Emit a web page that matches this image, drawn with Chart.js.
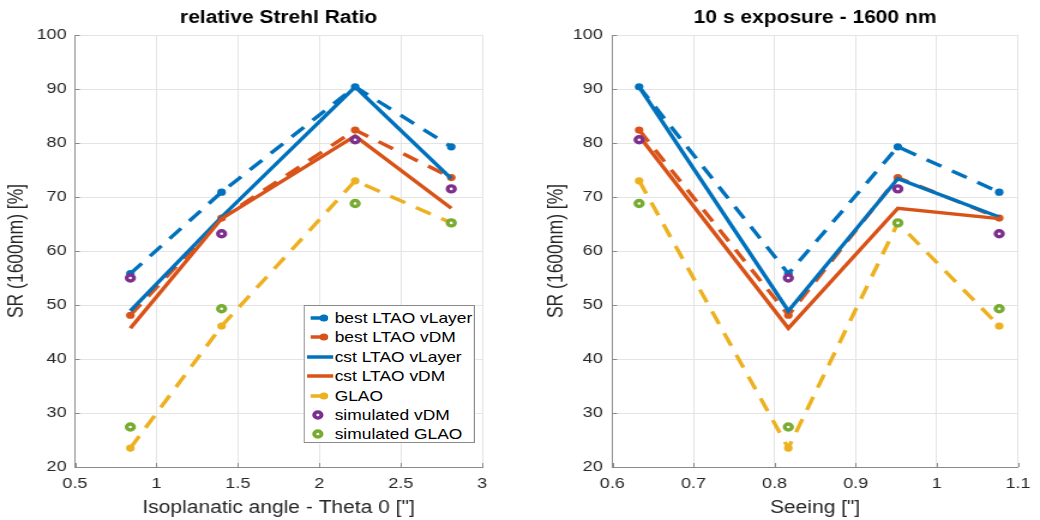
<!DOCTYPE html>
<html>
<head>
<meta charset="utf-8">
<script src="https://cdn.jsdelivr.net/npm/chart.js@4.4.1/dist/chart.umd.min.js"></script>
<style>
  html, body { margin: 0; padding: 0; background: #fff; }
  body { width: 1040px; height: 520px; overflow: hidden; position: relative; }
  #wrap { position: absolute; left: 0; top: 0; width: 867px; height: 520px; transform: scaleX(1.1995); transform-origin: 0 0; }
  #c1 { position: absolute; left: 0; top: 0; }
  #c2 { position: absolute; left: 433px; top: 0; }
  #legend { position: absolute; left: 253px; top: 305px; width: 143px; height: 138px; border: 1px solid #8a8a8a; background: #fff; box-sizing: border-box;
            font-family: "Liberation Sans", Arial, sans-serif; font-size: 14.5px; color: #000; }
  .row { position: absolute; left: 0; height: 18px; line-height: 18px; white-space: nowrap; }
  .row svg { position: absolute; left: 2px; top: 3px; }
  .row span { position: absolute; left: 25px; top: 0; }
</style>
</head>
<body>
<div id="wrap">
  <canvas id="c1" width="433" height="520"></canvas>
  <canvas id="c2" width="434" height="520"></canvas>
  <div id="legend"></div>
</div>
<script>
// ---- data ----
const theta   = [0.84, 1.40, 2.22, 2.81];     // isoplanatic angle ["]
const seeing  = [0.817, 1.077, 0.633, 0.952]; // seeing ["] of the same cases
const bestVLayer = [55.8, 70.9, 90.4, 79.3];
const bestVDM    = [48.1, 66.1, 82.4, 73.6];
const cstVLayer  = [48.9, 66.3, 90.4, 73.4];
const cstVDM     = [45.7, 66.0, 81.3, 67.9];
const glao       = [23.5, 46.1, 73.0, 65.2];
const simVDM     = [55.0, 63.2, 80.6, 71.5];
const simGLAO    = [27.4, 49.3, 68.8, 65.2];
const seriesNames = ['best LTAO vLayer', 'best LTAO vDM', 'cst LTAO vLayer', 'cst LTAO vDM', 'GLAO', 'simulated vDM', 'simulated GLAO'];
const xTicksLeft  = [0.5, 1, 1.5, 2, 2.5, 3];
const xTicksRight = [0.6, 0.7, 0.8, 0.9, 1, 1.1];
const yTicks = [20, 30, 40, 50, 60, 70, 80, 90, 100];
const titles = ['relative Strehl Ratio', '10 s exposure - 1600 nm'];
const xTitles = ['Isoplanatic angle - Theta 0 ["]', 'Seeing ["]'];
const yTitle = 'SR (1600nm) [%]';

// ---- styles ----
const FONT = '"Liberation Sans", Arial, sans-serif';
const BLUE = '#0072BD', ORANGE = '#D95319', YELLOW = '#EDB120', PURPLE = '#7E2F8E', GREEN = '#77AC30';
const DASH = [14, 10];
const styles = [
  { color: BLUE,   dash: DASH, line: true,  marker: 'dot'  },
  { color: ORANGE, dash: DASH, line: true,  marker: 'dot'  },
  { color: BLUE,   dash: [],   line: true,  marker: null   },
  { color: ORANGE, dash: [],   line: true,  marker: null   },
  { color: YELLOW, dash: DASH, line: true,  marker: 'dot'  },
  { color: PURPLE, dash: [],   line: false, marker: 'ring' },
  { color: GREEN,  dash: [],   line: false, marker: 'ring' }
];
const seriesValues = [bestVLayer, bestVDM, cstVLayer, cstVDM, glao, simVDM, simGLAO];

function makeDatasets(xs) {
  return seriesValues.map((vals, i) => {
    const st = styles[i];
    const pts = xs.map((x, k) => ({ x: x, y: vals[k] })).sort((a, b) => a.x - b.x);
    return {
      label: seriesNames[i],
      data: pts,
      showLine: st.line,
      borderColor: st.color,
      borderWidth: 3.4,
      borderDash: st.dash,
      borderCapStyle: 'butt',
      order: seriesValues.length - i,
      pointRadius: st.marker === 'dot' ? 3.6 : (st.marker === 'ring' ? 3 : 0),
      pointBorderWidth: st.marker === 'ring' ? 3.4 : 0,
      pointBackgroundColor: st.marker === 'ring' ? '#ffffff' : st.color,
      pointBorderColor: st.color,
      pointHoverRadius: 0
    };
  });
}

const innerTicks = {
  id: 'innerTicks',
  afterDraw(chart) {
    const { ctx, chartArea, scales } = chart;
    ctx.save();
    ctx.strokeStyle = '#8a8a8a';
    ctx.lineWidth = 1;
    scales.x.ticks.forEach(t => {
      const px = Math.round(scales.x.getPixelForValue(t.value)) + 0.5;
      ctx.beginPath(); ctx.moveTo(px, chartArea.bottom); ctx.lineTo(px, chartArea.bottom - 4); ctx.stroke();
    });
    scales.y.ticks.forEach(t => {
      const py = Math.round(scales.y.getPixelForValue(t.value)) + 0.5;
      ctx.beginPath(); ctx.moveTo(chartArea.left, py); ctx.lineTo(chartArea.left + 4, py); ctx.stroke();
    });
    ctx.restore();
  }
};

function makeChart(id, xs, xTicks, title, xTitle, geo) {
  return new Chart(document.getElementById(id), {
    type: 'scatter',
    data: { datasets: makeDatasets(xs) },
    plugins: [innerTicks],
    options: {
      responsive: false,
      animation: false,
      events: [],
      layout: { padding: { left: 0, right: geo.right, top: 0, bottom: 0 } },
      plugins: {
        legend: { display: false },
        tooltip: { enabled: false },
        title: {
          display: true, text: title, fullSize: false, color: '#000',
          font: { family: FONT, size: 17.5, weight: 'bold', lineHeight: 1.2 },
          padding: { top: 7.5, bottom: 6.5 }
        }
      },
      scales: {
        x: {
          type: 'linear', min: xTicks[0], max: xTicks[xTicks.length - 1],
          afterBuildTicks: s => { s.ticks = xTicks.map(v => ({ value: v })); },
          afterFit: s => { s.height = 53; },
          ticks: { color: '#262626', font: { family: FONT, size: 15, lineHeight: 1.2 }, padding: 8, maxRotation: 0, autoSkip: false,
                   callback: v => String(v) },
          grid: { color: '#e4e4e4', drawTicks: false, lineWidth: 1 },
          border: { color: '#8a8a8a', width: 1 },
          title: { display: true, text: xTitle, color: '#262626', font: { family: FONT, size: 17.5, lineHeight: 1.2 }, padding: { top: 0, bottom: 1.5 } }
        },
        y: {
          type: 'linear', min: yTicks[0], max: yTicks[yTicks.length - 1],
          afterBuildTicks: s => { s.ticks = yTicks.map(v => ({ value: v })); },
          afterFit: s => { s.width = geo.yw; },
          ticks: { color: '#262626', font: { family: FONT, size: 15, lineHeight: 1.2 }, padding: geo.tp, autoSkip: false,
                   callback: v => String(v) },
          grid: { color: '#e4e4e4', drawTicks: false, lineWidth: 1 },
          border: { color: '#8a8a8a', width: 1 },
          title: { display: true, text: yTitle, color: '#262626', font: { family: FONT, size: 17.5, lineHeight: 1.2 }, padding: { top: geo.yt, bottom: 0 } }
        }
      }
    }
  });
}

makeChart('c1', theta, xTicksLeft, titles[0], xTitles[0], { right: 31, yw: 62.5, tp: 7, yt: 4 });
makeChart('c2', seeing, xTicksRight, titles[1], xTitles[1], { right: 15, yw: 77.5, tp: 8, yt: 21 });

// ---- legend (HTML, inside left axes) ----
const legend = document.getElementById('legend');
seriesNames.forEach((name, i) => {
  const st = styles[i];
  const row = document.createElement('div');
  row.className = 'row';
  row.style.top = (3 + i * 19.4) + 'px';
  let svg = '<svg width="22" height="12" viewBox="0 0 22 12">';
  if (st.line) {
    if (st.dash.length) svg += '<line x1="3" y1="6" x2="17" y2="6" stroke="' + st.color + '" stroke-width="3.4"/>';
    else svg += '<line x1="0" y1="6" x2="22" y2="6" stroke="' + st.color + '" stroke-width="3.4"/>';
  }
  if (st.marker === 'dot') svg += '<circle cx="14" cy="6" r="3.6" fill="' + st.color + '"/>';
  if (st.marker === 'ring') svg += '<circle cx="9" cy="6" r="3" fill="#fff" stroke="' + st.color + '" stroke-width="3.4"/>';
  svg += '</svg>';
  row.innerHTML = svg + '<span></span>';
  row.querySelector('span').textContent = name;
  legend.appendChild(row);
});
</script>
</body>
</html>
